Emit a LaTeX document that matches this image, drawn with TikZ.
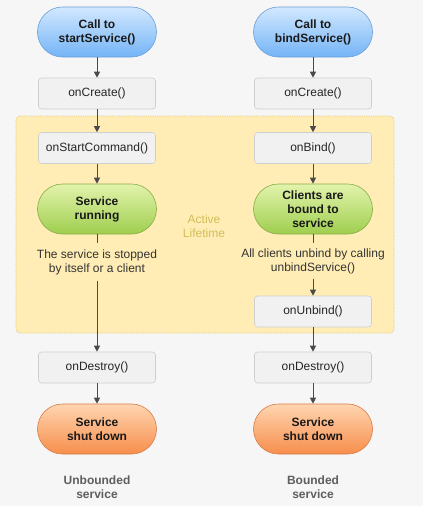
\documentclass[tikz,border=0pt]{standalone}
\usepackage{fontspec}
\setmainfont{Liberation Sans}
\usepackage{xcolor}
\usepackage{tikz}
\usetikzlibrary{arrows.meta, positioning}

\definecolor{pagebg}{HTML}{F6F6F6}
\definecolor{lifefill}{HTML}{FFEDB5}
\definecolor{lifedraw}{HTML}{E2C672}
\definecolor{lifetext}{HTML}{D2BE58}
\definecolor{boxfill}{HTML}{F1F1F1}
\definecolor{boxdraw}{HTML}{CFCFCF}
\definecolor{bluetop}{HTML}{D2E8FF}
\definecolor{bluebot}{HTML}{74B4F6}
\definecolor{bluedraw}{HTML}{6A9ED8}
\definecolor{greentop}{HTML}{E2F3AC}
\definecolor{greenbot}{HTML}{9FCE4E}
\definecolor{greendraw}{HTML}{86AC46}
\definecolor{orangetop}{HTML}{FFD5B0}
\definecolor{orangebot}{HTML}{F78E4C}
\definecolor{orangedraw}{HTML}{D87A46}
\definecolor{linecol}{HTML}{4A4A4A}
\definecolor{labelcol}{HTML}{5E5E5E}

\begin{document}
\fontsize{12}{14}\selectfont
\begin{tikzpicture}[x=1pt, y=-1pt,
    pill/.style={rectangle, rounded corners=25pt, minimum height=50pt, minimum width=119pt, align=center, font=\bfseries, text=black!90, line width=0.6pt},
    callpill/.style={pill, draw=bluedraw, top color=bluetop, bottom color=bluebot},
    runpill/.style={pill, draw=greendraw, top color=greentop, bottom color=greenbot},
    endpill/.style={pill, draw=orangedraw, top color=orangetop, bottom color=orangebot},
    method/.style={rectangle, rounded corners=3pt, minimum height=31pt, minimum width=117pt, draw=boxdraw, fill=boxfill, text=black!85, line width=0.6pt},
    note/.style={align=center, inner sep=6pt, text=black!80},
    kind/.style={align=center, font=\bfseries, text=labelcol},
    arrow/.style={-{Triangle[length=6pt, width=6pt]}, line width=0.8pt, draw=linecol, fill=linecol},
    link/.style={line width=0.8pt, draw=linecol}
]

% Page and the active lifetime area
\fill[pagebg] (0,0) rectangle (423,506);
\useasboundingbox (0,0) rectangle (423,506);
\draw[lifedraw, fill=lifefill, densely dotted, line width=0.8pt, rounded corners=4pt] (16,116) rectangle (394,333);
\node[text=lifetext, align=center] (life-label) at (204,226) {Active\\Lifetime};

% Unbounded service
\node[callpill] (start-call) at (97,32) {Call to\\startService()};
\node[method] (create-u) at (97,93.5) {onCreate()};
\node[method] (start-cmd) at (97,148) {onStartCommand()};
\node[runpill] (running) at (97,209) {Service\\running};
\node[note] (stop-note) at (97,262) {The service is stopped\\by itself or a client};
\node[method] (destroy-u) at (97,367.5) {onDestroy()};
\node[endpill] (down-u) at (97,429) {Service\\shut down};
\node[kind] (kind-u) at (97,487) {Unbounded\\service};

% Bounded service
\node[callpill] (bind-call) at (313,32) {Call to\\bindService()};
\node[method] (create-b) at (313,93.5) {onCreate()};
\node[method] (on-bind) at (313,148) {onBind()};
\node[runpill] (bound) at (313,209) {Clients are\\bound to\\service};
\node[note, inner sep=5pt] (unbind-note) at (313,261) {All clients unbind by calling\\unbindService()};
\node[method] (on-unbind) at (313,311.5) {onUnbind()};
\node[method] (destroy-b) at (313,367.5) {onDestroy()};
\node[endpill] (down-b) at (313,429) {Service\\shut down};
\node[kind] (kind-b) at (313,487) {Bounded\\service};

% Connectors
\draw[arrow] (start-call) -- (create-u);
\draw[arrow] (create-u) -- (start-cmd);
\draw[arrow] (start-cmd) -- (running);
\draw[link] (running) -- (stop-note);
\draw[arrow] (stop-note) -- (destroy-u);
\draw[arrow] (destroy-u) -- (down-u);

\draw[arrow] (bind-call) -- (create-b);
\draw[arrow] (create-b) -- (on-bind);
\draw[arrow] (on-bind) -- (bound);
\draw[link] (bound) -- (unbind-note);
\draw[arrow] (unbind-note) -- (on-unbind);
\draw[arrow] (on-unbind) -- (destroy-b);
\draw[arrow] (destroy-b) -- (down-b);

\end{tikzpicture}
\end{document}
